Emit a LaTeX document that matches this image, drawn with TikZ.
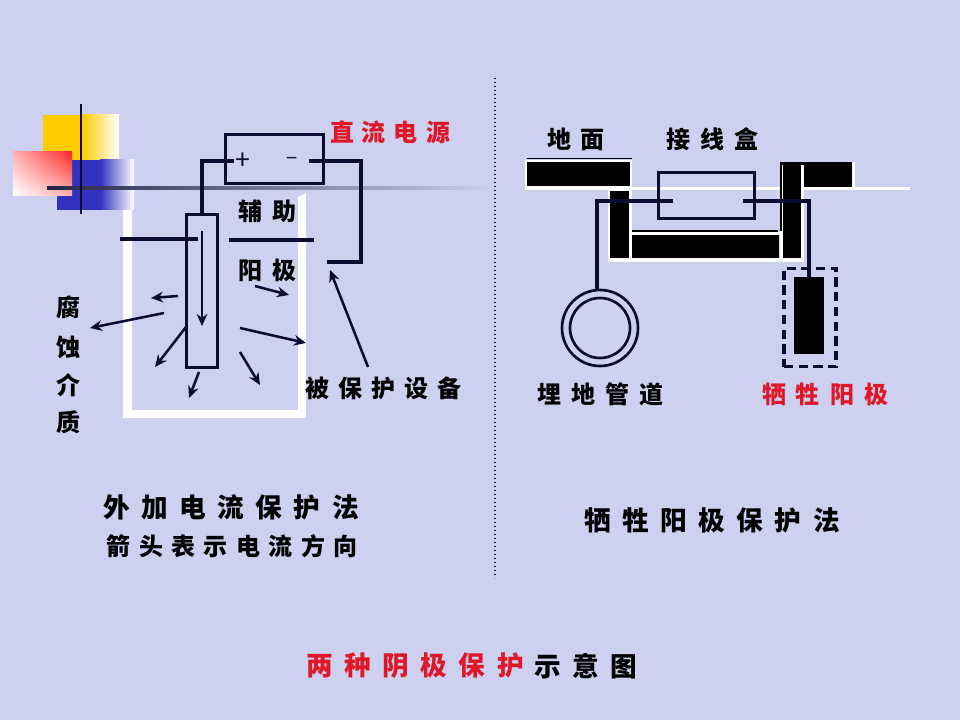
\documentclass[tikz,border=0pt]{standalone}
\usepackage{fontspec}
\setmainfont{Noto Sans CJK SC}
\usetikzlibrary{arrows.meta,shadings}
\definecolor{bgc}{RGB}{205,208,238}
\definecolor{ink}{RGB}{12,12,50}
\definecolor{redt}{RGB}{222,24,40}
\definecolor{yel}{RGB}{255,204,0}
\definecolor{blu}{RGB}{50,50,190}
\tikzset{
  x=0.75pt,y=-0.75pt,
  cable/.style={draw=ink,line width=2.3pt},
  flow/.style={draw=ink,line width=1.9pt,-{Stealth[length=9pt,width=8pt]}},
  lbl/.style={font=\bfseries\fontsize{18}{20}\selectfont,text=black,inner sep=0pt},
  biglbl/.style={lbl,font=\bfseries\fontsize{20}{22}\selectfont},
  redlbl/.style={lbl,text=redt},
  wh/.style={fill=white,draw=none},
  blk/.style={fill=black,draw=none},
  pt/.style={inner sep=0pt,minimum size=0pt}
}
\newcommand{\gp}{\hspace{7.5pt}}
\newcommand{\gq}{\hspace{8.6pt}}
\begin{document}
\begin{tikzpicture}
\useasboundingbox (0,0) rectangle (960,720);
\fill[bgc] (0,0) rectangle (960,720);
% corner decoration
\shade[left color=yel,right color=white] (82,115) rectangle (119,190);
\fill[yel] (43,115) rectangle (82,190);
\fill[blu] (57,160) rectangle (100,210);
\shade[left color=blu,right color=white] (100,160) rectangle (134,210);
\shade[lower left=white,upper right=red!85!white,lower right=red!30!white,upper left=red!30!white] (13,152) rectangle (72,196);
% tank
\fill[wh] (123,210) -- (132,210) -- (132,410) -- (298,410) -- (298,197) -- (306,193) -- (306,418) -- (123,418) -- cycle;
% horizon line
\shade[left color=ink!90!white,right color=bgc] (47,187) rectangle (495,189.5);
\fill[white] (525,187) rectangle (910,190);
\draw[ink,line width=2.2pt] (81,104) -- (81,214);
% centre line
\draw[ink,line width=1pt,dotted] (495,78) -- (495,578);

% left: source and anode
\node[draw=ink,line width=2.2pt,pt,minimum width=74pt,minimum height=37pt] (src) at (274.5,159) {};
\node[draw=ink,line width=2.2pt,pt,minimum width=23pt,minimum height=115pt] (anode) at (202,291) {};
\node[pt,font=\fontsize{20}{22}\selectfont,text=ink] (plus) at (243,161) {+};
\node[pt,font=\fontsize{15}{20}\selectfont,text=ink] (minus) at (292,161) {−};
\coordinate (wp) at (234,161);
\coordinate (wn) at (309,161);
\coordinate (prot) at (327,262);
\draw[cable] (wp) -- (202,161) -- (anode.north);
\draw[cable] (wn) -- (361,161) -- (361,262) -- (prot);
\coordinate (lvlA) at (120,239);
\coordinate (lvlB) at (198,239);
\coordinate (lvlC) at (229,240);
\coordinate (lvlD) at (314,240);
\draw[cable] (lvlA) -- (lvlB);
\draw[cable] (lvlC) -- (lvlD);
% current arrows
\coordinate (a1) at (202,231); \coordinate (a2) at (202,326);
\draw[flow] (a1) -- (a2);
\coordinate (b1) at (178,296); \coordinate (b2) at (151,298);
\draw[flow] (b1) -- (b2);
\coordinate (c1) at (164,313); \coordinate (c2) at (90,328);
\draw[flow] (c1) -- (c2);
\coordinate (d1) at (186,327); \coordinate (d2) at (155,367);
\draw[flow] (d1) -- (d2);
\coordinate (e1) at (199,372); \coordinate (e2) at (189,398);
\draw[flow] (e1) -- (e2);
\coordinate (f1) at (240,352); \coordinate (f2) at (260,385);
\draw[flow] (f1) -- (f2);
\coordinate (g1) at (240,328); \coordinate (g2) at (306,343);
\draw[flow] (g1) -- (g2);
\coordinate (h1) at (255,286); \coordinate (h2) at (289,295);
\draw[flow] (h1) -- (h2);
\node[lbl,pt] (tprot) at (383.5,388) {被\hspace{6.8pt}保\hspace{6.8pt}护\hspace{6.8pt}设\hspace{6.8pt}备};
\coordinate (i1) at (368,367); \coordinate (i2) at (330,270);
\draw[flow] (i1) -- (i2);
% left labels
\node[redlbl] (tsrc) at (390,132) {直\hspace{6pt}流\hspace{6pt}电\hspace{6pt}源};
\node[lbl] (t1) at (267.5,211) {辅\gp 助};
\node[lbl] (t2) at (267.5,270) {阳\gp 极};
\node[lbl] (v1) at (68,307) {腐};
\node[lbl] (v2) at (68,347) {蚀};
\node[lbl] (v3) at (68,385) {介};
\node[lbl] (v4) at (68,422) {质};
\node[biglbl] (cap1) at (231,507) {外\gq 加\gq 电\gq 流\gq 保\gq 护\gq 法};
\node[lbl] (cap2) at (232,546) {箭\hspace{6.3pt}头\hspace{6.3pt}表\hspace{6.3pt}示\hspace{6.3pt}电\hspace{6.3pt}流\hspace{6.3pt}方\hspace{6.3pt}向};

% right: ground bars
\fill[wh] (525,160) rectangle (632,190);
\fill[blk] (527,158) rectangle (632,159.5);
\fill[blk] (527,162) rectangle (630,186);
\fill[wh] (608,188) rectangle (632,262);
\fill[blk] (610,191) rectangle (629,260);
\fill[blk] (612,180) rectangle (630,186);
\fill[wh] (608,258) rectangle (804,262);
\fill[wh] (632,232) rectangle (780,235);
\fill[blk] (632,230) rectangle (778,232);
\fill[blk] (632,235) rectangle (779,258);
\fill[wh] (780,163) rectangle (804,261);
\fill[blk] (780,163) rectangle (781.5,231);
\fill[blk] (783,163) rectangle (801,258);
\fill[wh] (804,162) rectangle (855,190);
\fill[blk] (780,162) rectangle (852,165);
\fill[blk] (804,162) rectangle (852,187);
\fill[wh] (855,187) rectangle (910,190);
% right: junction box and wires
\node[draw=ink,line width=2.2pt,pt,minimum width=72pt,minimum height=34pt] (box) at (706.5,195.5) {};
\node[draw=ink,line width=2pt,pt,circle,minimum size=57pt] (pipe) at (600,328) {};
\node[draw=ink,line width=2pt,pt,circle,minimum size=45pt] (pipein) at (600,328) {};
\node[blk,pt,minimum width=22.5pt,minimum height=58pt] (sac) at (809,315.5) {};
\node[draw=ink,line width=2.3pt,dash pattern=on 7pt off 4pt,pt,minimum width=39pt,minimum height=74pt] (backfill) at (810,317.5) {};
\coordinate (jl) at (673,201);
\coordinate (jr) at (743,201);
\coordinate (pw) at (597,291);
\draw[cable] (jl) -- (597,201) -- (pw);
\draw[cable] (jr) -- (809,201) -- (sac.north);
% right labels
\node[lbl] (tg) at (576,139) {地\gp 面};
\node[lbl] (tj) at (712.5,139) {接\gp 线\gp 盒};
\node[lbl] (tp) at (600.5,394) {埋\gp 地\gp 管\gp 道};
\node[redlbl] (ts) at (825,394) {牺\gp 牲\gp 阳\gp 极};
\node[biglbl] (cap3) at (712,520) {牺\gq 牲\gq 阳\gq 极\gq 保\gq 护\gq 法};
% title
\node[biglbl,text=redt] (ti1) at (415,666) {两\gq 种\gq 阴\gq 极\gq 保\gq 护};
\node[biglbl] (ti2) at (585.5,666) {示\gq 意\gq 图};
\end{tikzpicture}
\end{document}
